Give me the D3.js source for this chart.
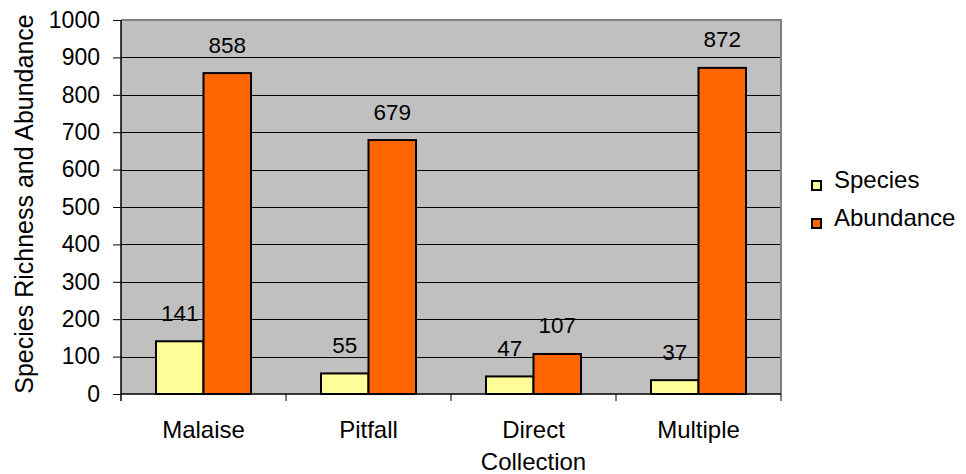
<!DOCTYPE html>
<html>
<head>
<meta charset="utf-8">
<script src="https://cdn.jsdelivr.net/npm/d3@7"></script>
<style>
  html, body { margin: 0; padding: 0; background: #fff; }
  svg { display: block; font-family: Arial, "Liberation Sans", sans-serif; }
</style>
</head>
<body>
<svg id="chart" width="966" height="474"></svg>
<script>
// Collection methods and counts
const categories = ["Malaise", "Pitfall", "Direct Collection", "Multiple"];
const categoryLines = [["Malaise"], ["Pitfall"], ["Direct", "Collection"], ["Multiple"]];
const seriesNames = ["Species", "Abundance"];
const species = [141, 55, 47, 37];
const abundance = [858, 679, 107, 872];
const yTicks = [0, 100, 200, 300, 400, 500, 600, 700, 800, 900, 1000];
const colors = ["#FFFF99", "#FF6600"];

const FONT = "Arial, 'Liberation Sans', sans-serif";
const svg = d3.select("#chart");
const plot = { left: 121, top: 20, right: 781, bottom: 394 };

const x = d3.scaleBand().domain(categories).range([plot.left, plot.right]).paddingInner(0).paddingOuter(0);
const inner = d3.scaleBand().domain(seriesNames).range([0, x.bandwidth()]).paddingInner(0).paddingOuter(0.737);
const y = d3.scaleLinear().domain([0, 1000]).range([plot.bottom, plot.top]);

// plot background
svg.append("rect")
  .attr("x", plot.left).attr("y", plot.top)
  .attr("width", plot.right - plot.left).attr("height", plot.bottom - plot.top)
  .attr("fill", "#C0C0C0");

// gridlines
svg.append("g").selectAll("line").data(yTicks.filter(d => d > 0 && d < 1000)).join("line")
  .attr("x1", plot.left).attr("x2", plot.right)
  .attr("y1", d => Math.round(y(d)) + 0.5).attr("y2", d => Math.round(y(d)) + 0.5)
  .attr("stroke", "#000").attr("stroke-width", 1);

// frame (top and right in grey)
svg.append("path")
  .attr("d", `M${plot.left},${plot.top} H${plot.right} V${plot.bottom}`)
  .attr("fill", "none").attr("stroke", "#808080").attr("stroke-width", 2);

// y axis
const yAxis = d3.axisLeft(y).tickValues(yTicks).tickSize(8).tickPadding(13).tickFormat(d3.format("d"));
const gy = svg.append("g").attr("transform", `translate(${plot.left},0)`).call(yAxis);
gy.select(".domain").remove();
gy.selectAll(".tick line").attr("stroke", "#000");
gy.selectAll(".tick text").attr("font-size", 23).attr("fill", "#000").attr("font-family", FONT);
svg.append("line")
  .attr("x1", plot.left).attr("x2", plot.left)
  .attr("y1", plot.top).attr("y2", plot.bottom + 7)
  .attr("stroke", "#000").attr("stroke-width", 1.5);

// x axis with boundary ticks between categories
const xAxisLine = svg.append("g");
xAxisLine.append("line")
  .attr("x1", plot.left).attr("x2", plot.right)
  .attr("y1", plot.bottom).attr("y2", plot.bottom)
  .attr("stroke", "#000").attr("stroke-width", 1.5);
xAxisLine.selectAll("line.b").data(categories).join("line")
  .attr("class", "b")
  .attr("x1", d => x(d) + x.bandwidth())
  .attr("x2", d => x(d) + x.bandwidth())
  .attr("y1", plot.bottom).attr("y2", plot.bottom + 7)
  .attr("stroke", "#000").attr("stroke-width", 1);

// category labels
const xl = svg.append("g").selectAll("text").data(categories).join("text")
  .attr("x", d => x(d) + x.bandwidth() / 2)
  .attr("y", 438)
  .attr("text-anchor", "middle").attr("font-size", 24).attr("fill", "#000");
xl.each(function(d, i) {
  d3.select(this).selectAll("tspan").data(categoryLines[i]).join("tspan")
    .attr("x", x(d) + x.bandwidth() / 2)
    .attr("dy", (t, j) => j === 0 ? 0 : 32)
    .text(t => t);
});

// bars
const rows = categories.map((c, i) => ({ cat: c, vals: [species[i], abundance[i]] }));
const groups = svg.append("g").selectAll("g").data(rows).join("g")
  .attr("transform", d => `translate(${x(d.cat)},0)`);
groups.selectAll("rect").data(d => d.vals.map((v, k) => ({ name: seriesNames[k], v, k }))).join("rect")
  .attr("x", d => inner(d.name))
  .attr("y", d => y(d.v))
  .attr("width", inner.bandwidth())
  .attr("height", d => y(0) - y(d.v))
  .attr("fill", d => colors[d.k])
  .attr("stroke", "#000").attr("stroke-width", 2);
groups.selectAll("text").data(d => d.vals.map((v, k) => ({ name: seriesNames[k], v, k }))).join("text")
  .attr("x", d => inner(d.name) + inner.bandwidth() / 2)
  .attr("y", d => y(d.v) - 20.5)
  .attr("text-anchor", "middle").attr("font-size", 22.5).attr("fill", "#000")
  .text(d => d.v);

// y title
svg.append("text")
  .attr("transform", "translate(33,204) rotate(-90)")
  .attr("text-anchor", "middle").attr("font-size", 25).attr("fill", "#000")
  .text("Species Richness and Abundance");

// legend
const legend = svg.append("g").selectAll("g").data(seriesNames).join("g")
  .attr("transform", (d, i) => `translate(812,${185.5 + i * 38})`);
legend.append("rect")
  .attr("x", 0).attr("y", -4.5).attr("width", 9).attr("height", 9)
  .attr("fill", (d, i) => colors[i]).attr("stroke", "#000").attr("stroke-width", 2);
legend.append("text")
  .attr("x", 22).attr("y", 2.5)
  .attr("font-size", 24).attr("fill", "#000")
  .text(d => d);
</script>
</body>
</html>
